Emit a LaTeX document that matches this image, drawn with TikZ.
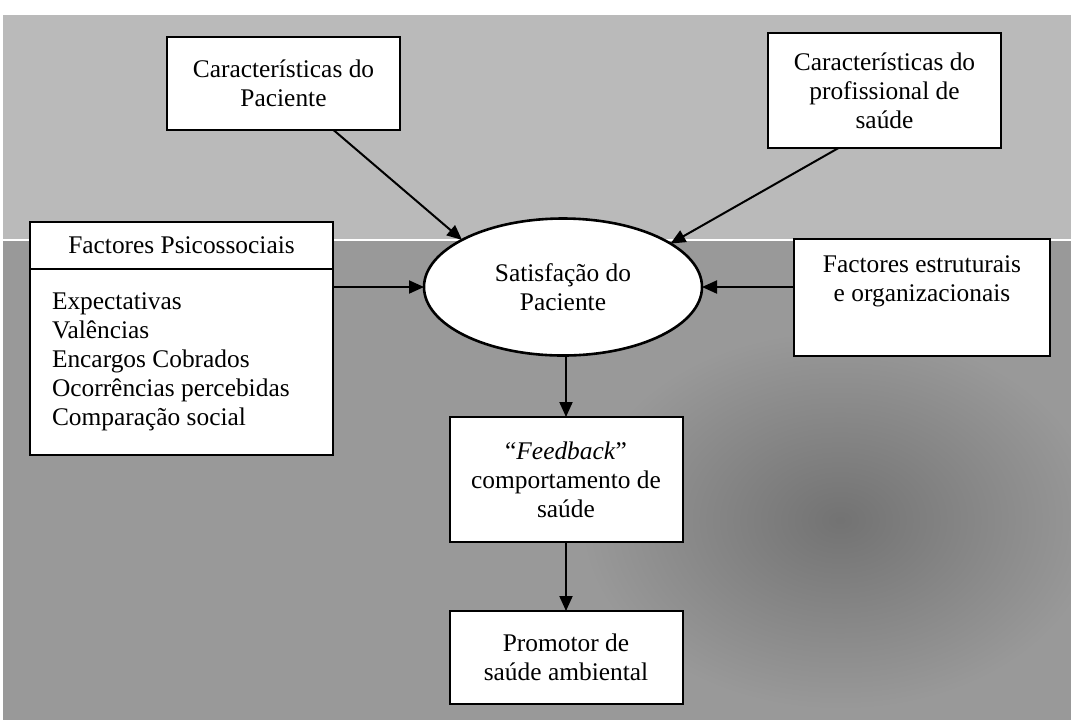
\documentclass[tikz,border=0pt]{standalone}
\usepackage{fontspec}
\setmainfont{Liberation Serif}
\usetikzlibrary{
    arrows.meta,
    positioning,
    shapes.geometric
}
\tikzset{
    every picture/.style = {
        > = {Triangle[length = 7.5pt, width = 6.5pt]}
    },
    box/.style = {
        draw,
        line width = 1pt,
        fill = white,
        inner sep = 0pt,
        outer sep = 0pt,
        align = center,
        font = \fontsize{12.7pt}{14.5pt}\selectfont
    },
    oval/.style = {
        box,
        ellipse,
        line width = 1.3pt
    },
    conn/.style = {
        ->,
        line width = 1pt
    }
}

\begin{document}
\begin{tikzpicture}[x = 0.5pt, y = -0.5pt]
    \useasboundingbox (0, 0) rectangle (1071, 720);

    % scanned background
    \fill[black!27] (3, 15) rectangle (1071, 240);
    \fill[black!40] (3, 240) rectangle (1071, 720);
    \shade[inner color = black!55, outer color = black!40] (840, 520) ellipse [x radius = 130pt, y radius = 95pt];
    \draw[white, line width = 0.6pt] (3, 240) -- (1071, 240);

    \node[box, minimum width = 116.5pt, minimum height = 46.5pt] (pac) at (283.5, 83.5) {Características do\\Paciente};
    \node[box, minimum width = 116.5pt, minimum height = 57.5pt] (prof) at (884.5, 90.5) {Características do\\profissional de\\saúde};

    \node[box, minimum width = 151.5pt, minimum height = 23.5pt] (psihead) at (181.5, 245.5) {Factores Psicossociais};
    \node[box, below = 0pt of psihead, minimum width = 151.5pt, minimum height = 93pt, text width = 129.5pt, align = flush left] (psibody) {Expectativas\\Valências\\Encargos Cobrados\\Ocorrências percebidas\\Comparação social};

    \node[oval, minimum width = 139pt, minimum height = 68.5pt] (sat) at (563, 287) {Satisfação do\\Paciente};
    \node[box, minimum width = 128pt, minimum height = 58.5pt] (estr) at (922, 297.5) {Factores estruturais\\e organizacionais\\ \strut};

    \node[box, minimum width = 116.5pt, minimum height = 62.5pt] (feed) at (566, 479.5) {“\textit{Feedback}”\\comportamento de\\saúde};
    \node[box, minimum width = 116.5pt, minimum height = 46.5pt] (prom) at (566, 657.5) {Promotor de\\saúde ambiental};

    \draw[conn] ([xshift = 25pt]pac.south) -- (sat.155);
    \draw[conn] ([xshift = -23pt]prof.south) -- (sat.22);
    \draw[conn] (psibody.east |- sat.west) -- (sat.west);
    \draw[conn] (estr.west |- sat.east) -- (sat.east);
    \draw[conn] (sat.south -| feed.north) -- (feed.north);
    \draw[conn] (feed.south) -- (prom.north);
\end{tikzpicture}
\end{document}
